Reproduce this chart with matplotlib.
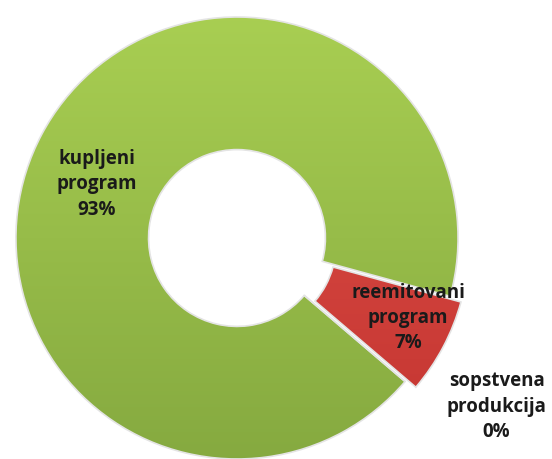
import numpy as np
import matplotlib.pyplot as plt
from matplotlib.colors import LinearSegmentedColormap

# ----------------------------
# Data
# ----------------------------
categories = ["kupljeni\nprogram", "reemitovani\nprogram", "sopstvena\nprodukcija"]
shares = [93, 7, 0]
colors = ["#96C24A", "#D4433C", "#4F81BD"]
# top / bottom shades for the gradient fill
shades = [("#AAD053", "#84A83F"), ("#E2534B", "#C2332F"), ("#5B8FCB", "#3F6FA8")]
explode = [0.0, 0.055, 0.0]

# label placement (angle offset in deg, radius) relative to wedge middle
label_pos = [(7, 0.68), (3, 0.80), (None, 1.40)]

fig = plt.figure(figsize=(5.52, 4.59), dpi=100)
ax = fig.add_axes([0, 0, 1, 1])

wedges, _ = ax.pie(shares, colors=colors, explode=explode, startangle=-40.5,
                   counterclock=False, radius=1.0,
                   wedgeprops=dict(width=0.6, edgecolor="#E4E4E4", linewidth=1.2))

# vertical gradient inside each wedge
grad = np.linspace(1, 0, 256).reshape(-1, 1)
for w, (top, bot) in zip(wedges, shades):
    cmap = LinearSegmentedColormap.from_list("g", [bot, top])
    im = ax.imshow(grad, cmap=cmap, extent=[-1.1, 1.1, -1.1, 1.1],
                   aspect="auto", origin="upper", zorder=1)
    im.set_clip_path(w)
    w.set_facecolor("none")
    w.set_zorder(2)

for w, txt, val, (dang, rad) in zip(wedges, categories, shares, label_pos):
    if dang is None:
        ang = np.deg2rad(w.theta1 + 7.5)
    else:
        ang = np.deg2rad((w.theta1 + w.theta2) / 2 + dang)
    cx, cy = w.center
    ax.text(cx + rad * np.cos(ang), cy + rad * np.sin(ang), f"{txt}\n{val}%",
            ha="center", va="center", fontsize=13.5, fontweight="bold",
            family="Open Sans", color="#1a1a1a", linespacing=1.35, zorder=3)

ax.set_xlim(-1.072, 1.425)
ax.set_ylim(-1.0, 1.077)
ax.set_aspect("auto")
ax.axis("off")

fig.savefig("out.png", dpi=100)
